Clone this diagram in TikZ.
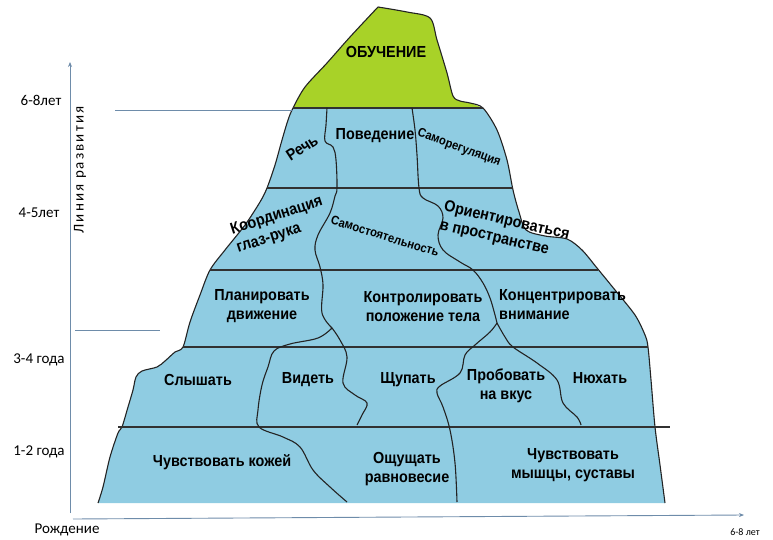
\documentclass[tikz,border=0pt]{standalone}
\usepackage{fontspec}
\setmainfont{Liberation Sans}
\newfontfamily\labf[FakeStretch=0.9]{Liberation Sans}
\newfontfamily\axf{Carlito}
\newfontfamily\vaxf[LetterSpace=14]{Carlito}
\usetikzlibrary{arrows.meta}
\definecolor{ice}{RGB}{143,204,226}
\definecolor{greentop}{RGB}{168,210,40}
\definecolor{axisc}{RGB}{110,140,170}
\definecolor{edgec}{RGB}{35,35,35}
\begin{document}
\begin{tikzpicture}[x=1pt,y=-1pt,
  lab/.style={font=\labf\bfseries\fontsize{16}{19}\selectfont, align=center, inner sep=0pt},
  smalllab/.style={font=\labf\bfseries\fontsize{12.5}{14}\selectfont, inner sep=0pt},
  axl/.style={font=\axf\fontsize{15}{17}\selectfont, inner sep=0pt},
  edgeline/.style={draw=edgec, line width=1.1pt, line join=round},
  rowline/.style={draw=edgec!85!gray, line width=1.3pt},
  guide/.style={draw=axisc, line width=0.9pt}]
\useasboundingbox (0,0) rectangle (773,540);

% ice fill
\fill[ice] plot[smooth, tension=0.5] coordinates {(98,503) (103,487) (110,457) (118,433) (122,427) (128,407) (133,390) (136,377) (142,371) (157,367) (165,361) (175,352) (183,347) (190,322) (200,295) (210,270) (225,250) (245,225) (260,202) (267,188) (275,165) (282,140) (288,120) (293,108)}
 -- plot[smooth, tension=0.5] coordinates {(483,108) (497,130) (507,160) (513,190) (519,212) (526,230) (545,236) (567,239) (582,250) (597,268) (615,290) (635,315) (645,335) (648,347) (651,380) (655,427) (660,465) (665,503)} -- cycle;

% green top
\fill[greentop] plot[smooth, tension=0.5] coordinates {(293,108) (305,87) (327,63) (350,37) (378,7)}
 -- plot[smooth, tension=0.5] coordinates {(378,7) (407,12) (430,18) (437,40) (447,73) (453,96) (460,101) (470,103) (483,108)} -- cycle;

% outline
\draw[edgeline] plot[smooth, tension=0.5] coordinates {(378,7) (350,37) (327,63) (305,87) (293,108) (288,120) (282,140) (275,165) (267,188) (260,202) (245,225) (225,250) (210,270) (200,295) (190,322) (183,347) (175,352) (165,361) (157,367) (142,371) (136,377) (133,390) (128,407) (122,427) (118,433) (110,457) (103,487) (98,503)};
\draw[edgeline] plot[smooth, tension=0.5] coordinates {(378,7) (407,12) (430,18) (437,40) (447,73) (453,96) (460,101) (470,103) (483,108) (497,130) (507,160) (513,190) (519,212) (526,230) (545,236) (567,239) (582,250) (597,268) (615,290) (635,315) (645,335) (648,347) (651,380) (655,427) (660,465) (665,503)};

% rows
\coordinate (r1a) at (293,108); \coordinate (r1b) at (483,108);
\coordinate (r2a) at (267,188); \coordinate (r2b) at (513,188);
\coordinate (r3a) at (210,270); \coordinate (r3b) at (598,270);
\coordinate (r4a) at (183,347); \coordinate (r4b) at (648,347);
\coordinate (r5a) at (118,427); \coordinate (r5b) at (670,427);
\draw[rowline] (r1a) -- (r1b);
\draw[rowline] (r2a) -- (r2b);
\draw[rowline] (r3a) -- (r3b);
\draw[rowline] (r4a) -- (r4b);
\draw[rowline] (r5a) -- (r5b);

% dividers
\draw[edgeline] plot[smooth, tension=0.6] coordinates {(327,108) (326,125) (325,141) (333,147) (336,160) (337,188) (335,196) (330,213) (318,235) (315,250) (320,267) (323,285) (322,313) (332,328)};
\draw[edgeline] plot[smooth, tension=0.6] coordinates {(332,328) (318,338) (290,344) (274,351) (268,367) (262,385) (258,410) (259,427) (283,437) (300,447) (313,470) (330,487) (347,502)};
\draw[edgeline] plot[smooth, tension=0.6] coordinates {(332,328) (340,340) (347,357) (343,383) (355,395) (367,403) (362,415) (357,425)};
\draw[edgeline] plot[smooth, tension=0.6] coordinates {(412,108) (415,130) (417,155) (419,188) (423,198) (438,206) (443,218) (438,235) (443,250) (460,262) (473,270) (483,283) (490,298) (495,315) (497,323)};
\draw[edgeline] plot[smooth, tension=0.6] coordinates {(497,323) (490,332) (475,345) (465,355) (460,373) (440,386) (437,393) (443,407) (450,430) (455,463) (457,502)};
\draw[edgeline] plot[smooth, tension=0.6] coordinates {(497,323) (505,337) (513,347) (537,363) (557,380) (563,403) (577,417) (581,425)};

% axes and guides
\coordinate (o) at (70,513);
\coordinate (ytop) at (70,62);
\coordinate (xo) at (73,519);
\coordinate (xend) at (744,515);
\draw[guide, -{Stealth[length=5pt,width=4pt]}] (o) -- (ytop);
\draw[guide, -{Stealth[length=5pt,width=4pt]}] (xo) -- (xend);
\coordinate (g1a) at (115,110); \coordinate (g1b) at (293,110);
\coordinate (g2a) at (75,330); \coordinate (g2b) at (160,330);
\draw[guide] (g1a) -- (g1b);
\draw[guide] (g2a) -- (g2b);

% axis labels
\node[axl] (a68) at (41,100) {6-8лет};
\node[axl] (a45) at (39,213) {4-5лет};
\node[axl] (a34) at (39,360) {3-4 года};
\node[axl] (a12) at (39,452) {1-2 года};
\node[axl] (birth) at (67,530) {Рождение};
\node[font=\vaxf\fontsize{15}{17}\selectfont, inner sep=0pt, rotate=90] (line) at (80,170) {Линия развития};
\node[font=\axf\fontsize{10}{12}\selectfont, inner sep=0pt] (x68) at (745,532) {6-8 лет};

% labels
\node[lab] (obuch) at (386,52) {ОБУЧЕНИЕ};
\node[lab, rotate=33] (rech) at (302,148) {Речь};
\node[lab] (poved) at (375,136) {Поведение};
\node[smalllab, rotate=-20] (samoreg) at (459,148) {Саморегуляция};
\node[lab, rotate=18, align=left, anchor=west] (koord) at (234,240) {Координация\\глаз-рука};
\node[smalllab, rotate=-17] (samost) at (385,236) {Самостоятельность};
\node[lab, rotate=-13, align=left, anchor=west] (orient) at (442,216) {Ориентироваться\\в пространстве};
\node[lab] (plan) at (262,306) {Планировать\\движение};
\node[lab] (kontr) at (423,307) {Контролировать\\положение тела};
\node[lab, align=left, anchor=west] (konc) at (499,305) {Концентрировать\\внимание};
\node[lab] (slysh) at (198,380) {Слышать};
\node[lab] (videt) at (308,380) {Видеть};
\node[lab] (shchup) at (408,380) {Щупать};
\node[lab] (probov) at (506,386) {Пробовать\\на вкус};
\node[lab] (nyuh) at (600,378) {Нюхать};
\node[lab] (kozh) at (222,462) {Чувствовать кожей};
\node[lab] (ravn) at (407,469) {Ощущать\\равновесие};
\node[lab] (mysh) at (573,465) {Чувствовать\\мышцы, суставы};
\end{tikzpicture}
\end{document}
